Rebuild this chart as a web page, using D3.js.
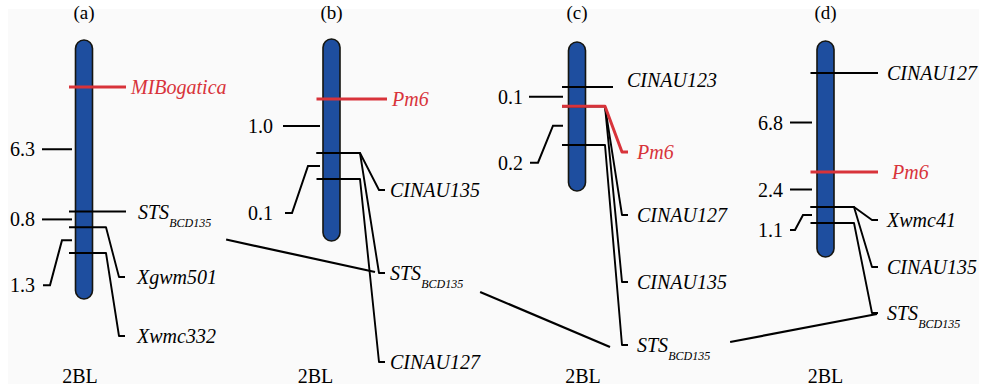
<!DOCTYPE html>
<html>
<head>
<meta charset="utf-8">
<script src="https://cdn.jsdelivr.net/npm/d3@7"></script>
<style>
  body { margin: 0; background: #fff; }
</style>
</head>
<body>
<div id="map"></div>
<script>
//size of the view
var width = 985,
    height = 391;

//panel titles and chromosome arm under each map
var panelTitles = ["(a)", "(b)", "(c)", "(d)"];
var chromNames = ["2BL", "2BL", "2BL", "2BL"];

//marker names per map (text after "_" is the subscript)
var markerNames = [
  ["MIBogatica", "STS_BCD135", "Xgwm501", "Xwmc332"],
  ["Pm6", "CINAU135", "STS_BCD135", "CINAU127"],
  ["CINAU123", "Pm6", "CINAU127", "CINAU135", "STS_BCD135"],
  ["CINAU127", "Pm6", "Xwmc41", "CINAU135", "STS_BCD135"]
];

//marker positions in cM from the top marker
var markerPos = [
  [0, 6.3, 7.1, 8.4],
  [0, 1.0, 1.0, 1.1],
  [0, 0.1, 0.1, 0.1, 0.3],
  [0, 6.8, 9.2, 9.2, 10.3]
];

//genes are drawn in red
var geneNames = ["MIBogatica", "Pm6"];

//distance labels between neighbouring loci
var intervalLabels = [
  ["6.3", "0.8", "1.3"],
  ["1.0", "0.1"],
  ["0.1", "0.2"],
  ["6.8", "2.4", "1.1"]
];

//layout of each panel (pixels)
var layout = [
  { cx: 84, top: 40, bottom: 299, domain: [0, 8.4], range: [87, 253],
    tickIn: 12, tickOut: 42, numRight: 49, br: [22, 34, 41], drop: 45,
    straightEnd: 42, bend: 22, end: 41, gap: 12,
    labelY: { "Xgwm501": 277, "Xwmc332": 336 }, labelDy: {}, labelDx: { "MIBogatica": -7 }, nameDx: -4 },
  { cx: 331.5, top: 39, bottom: 241, domain: [0, 1.0, 1.1], range: [99, 153, 179],
    tickIn: 11.5, tickOut: 48.5, numRight: 58.5, br: [23.5, 39.5, 46.5], drop: 47,
    straightEnd: 55.5, bend: 28.5, end: 53.5, gap: 5,
    labelY: { "CINAU135": 190, "STS_BCD135": 273, "CINAU127": 362 }, labelDy: {}, labelDx: {}, nameDx: -16 },
  { cx: 577, top: 42, bottom: 191, domain: [0, 0.3], range: [87, 145],
    tickIn: 14, tickOut: 48, numRight: 54, br: [24, 39, 47], drop: 37,
    straightEnd: 36, bend: 28, end: 51, gap: 9,
    labelY: { "Pm6": 152, "CINAU127": 215, "CINAU135": 282, "STS_BCD135": 345 },
    labelDy: { "CINAU123": -7 }, labelDx: { "CINAU123": 5 }, nameDx: 6 },
  { cx: 825.5, top: 41, bottom: 257, domain: [0, 10.3], range: [73, 223],
    tickIn: 13.5, tickOut: 35.5, numRight: 42.5, br: [22.5, 30.5, 35.5], drop: 15,
    straightEnd: 52.5, bend: 28.5, end: 52.5, gap: 9,
    labelY: { "Xwmc41": 220, "CINAU135": 267, "STS_BCD135": 313 }, labelDy: {}, labelDx: { "Pm6": 5 }, nameDx: 0 }
];

//lines joining the STS marker of one map to the next
var connectors = [
  { sx: 15, sy: 28, ex: -4, ey: -1 },
  { sx: 17, sy: 19, ex: -12, ey: 2 },
  { sx: 20, sy: -3, ex: 5, ey: 1 }
];

var red = "#d8333a";
var serif = "Liberation Serif";
var mid = 7; // baseline shift to centre 20px text on a line
var line = d3.line();

var svg = d3.select("#map").append("svg")
    .attr("width", width)
    .attr("height", height);

//light grey paper
svg.append("rect")
    .attr("x", 8).attr("y", 9)
    .attr("width", 971).attr("height", 375)
    .attr("fill", "#fafafa");

var stsEnds = []; //where each STS line ends, and its label

panelTitles.forEach(function(title, i) {
  var L = layout[i];
  var cx = L.cx;
  var y = d3.scaleLinear().domain(L.domain).range(L.range);
  var g = svg.append("g");

  g.append("text")
      .attr("x", cx).attr("y", 19)
      .attr("text-anchor", "middle")
      .style("font-family", serif)
      .style("font-size", "19px")
      .text(title);

  g.append("text")
      .attr("x", cx + L.nameDx).attr("y", 383)
      .attr("text-anchor", "middle")
      .style("font-family", serif)
      .style("font-size", "20px")
      .text(chromNames[i]);

  //the chromosome
  g.append("rect")
      .attr("x", cx - 8.5).attr("y", L.top)
      .attr("width", 17).attr("height", L.bottom - L.top)
      .attr("rx", 8.5).attr("ry", 8.5)
      .attr("fill", "#1e4e9f")
      .attr("stroke", "#151510")
      .attr("stroke-width", 1.6);

  //distance labels
  var loci = markerPos[i].filter(function(d, k, a) { return a.indexOf(d) === k; });
  intervalLabels[i].forEach(function(lab, k) {
    var ym = (y(loci[k]) + y(loci[k + 1])) / 2;
    var last = k === intervalLabels[i].length - 1;
    var pts, ty = ym;
    if (!last) {
      pts = [[cx - L.tickOut, ym], [cx - L.tickIn, ym]];
    } else {
      ty = ym + L.drop;
      pts = [[cx - L.tickIn, ym], [cx - L.br[0], ym], [cx - L.br[1], ty], [cx - L.br[2], ty]];
    }
    g.append("path")
        .attr("d", line(pts))
        .attr("fill", "none")
        .attr("stroke", "#000")
        .attr("stroke-width", 2);
    g.append("text")
        .attr("x", cx - L.numRight).attr("y", ty + mid)
        .attr("text-anchor", "end")
        .style("font-family", serif)
        .style("font-size", "20px")
        .text(lab);
  });

  //markers, black first so the genes sit on top
  var order = markerNames[i].map(function(d, k) { return k; });
  order.sort(function(a, b) {
    return (geneNames.indexOf(markerNames[i][a]) >= 0) - (geneNames.indexOf(markerNames[i][b]) >= 0);
  });

  order.forEach(function(k) {
    var name = markerNames[i][k];
    var parts = name.split("_");
    var gene = geneNames.indexOf(name) >= 0;
    var ym = y(markerPos[i][k]);
    var ly = L.labelY[name];
    var pts, lx;
    if (ly === undefined) {
      ly = ym + (L.labelDy[name] || 0);
      pts = [[cx - 15, ym], [cx + L.straightEnd, ym]];
      lx = cx + L.straightEnd + L.gap;
    } else {
      pts = [[cx - 15, ym], [cx + L.bend, ym], [cx + L.end - 6, ly], [cx + L.end, ly]];
      lx = cx + L.end + L.gap;
    }
    lx += L.labelDx[name] || 0;
    g.append("path")
        .attr("d", line(pts))
        .attr("fill", "none")
        .attr("stroke", gene ? red : "#000")
        .attr("stroke-width", gene ? 3 : 1.9)
        .attr("stroke-linejoin", "round");

    var t = g.append("text")
        .attr("x", lx).attr("y", ly + mid)
        .style("fill", gene ? red : "#000")
        .style("font-family", serif)
        .style("font-size", "20px")
        .style("font-style", "italic");
    t.append("tspan").text(parts[0]);
    if (parts[1]) {
      t.append("tspan")
          .attr("dy", 8)
          .style("font-size", "12px")
          .text(parts[1]);
      stsEnds[i] = { x: pts[pts.length - 1][0] - 6, y: ly, right: lx + t.node().getBBox().width };
    }
  });
});

//connect the STS markers across maps
connectors.forEach(function(c, i) {
  var a = stsEnds[i], b = stsEnds[i + 1];
  svg.append("path")
      .attr("d", line([[a.right + c.sx, a.y + c.sy], [b.x + c.ex, b.y + c.ey]]))
      .attr("stroke", "#000")
      .attr("stroke-width", 2.2);
});
</script>
</body>
</html>
